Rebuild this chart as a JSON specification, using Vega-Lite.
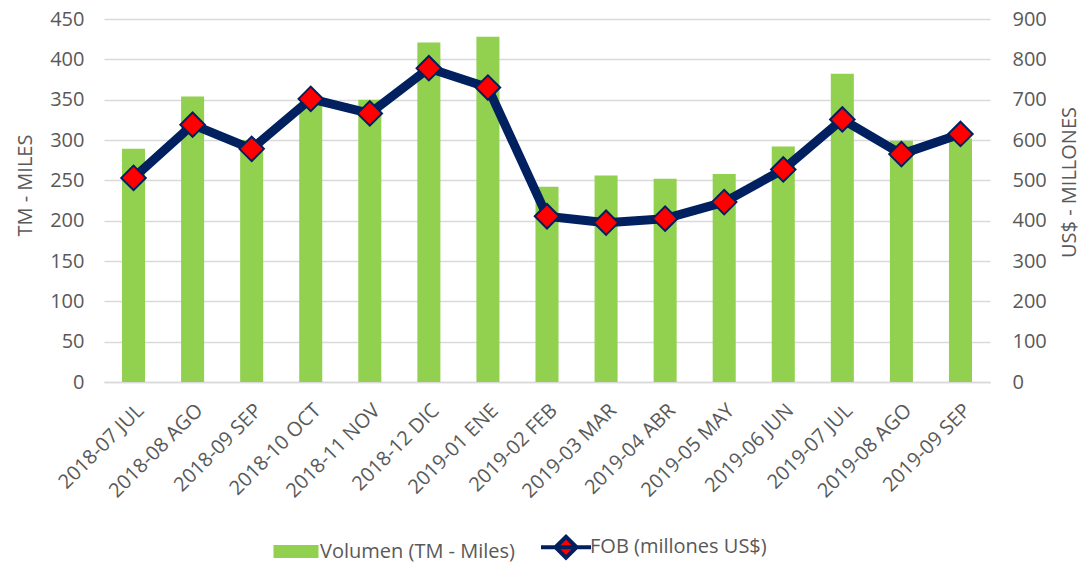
{
  "$schema": "https://vega.github.io/schema/vega-lite/v6.json",
  "width": 886,
  "height": 363,
  "autosize": {"type": "none"},
  "padding": {"left": 104, "top": 19, "right": 95, "bottom": 184},
  "config": {
    "view": {"stroke": null},
    "font": "Open Sans",
    "axis": {
      "labelColor": "#595959",
      "titleColor": "#595959",
      "labelFontSize": 20,
      "titleFontSize": 20,
      "titleFontWeight": "normal",
      "gridColor": "#D9D9D9",
      "gridWidth": 1.5,
      "ticks": false,
      "domain": false
    },
    "legend": {
      "labelColor": "#595959",
      "labelFontSize": 20,
      "labelFont": "Open Sans",
      "labelLimit": 400
    }
  },
  "data": {
    "values": [
      {"mes": "2018-07 JUL", "volumen": 289, "fob": 506},
      {"mes": "2018-08 AGO", "volumen": 354, "fob": 638},
      {"mes": "2018-09 SEP", "volumen": 300, "fob": 578},
      {"mes": "2018-10 OCT", "volumen": 345, "fob": 702},
      {"mes": "2018-11 NOV", "volumen": 350, "fob": 666},
      {"mes": "2018-12 DIC", "volumen": 421, "fob": 778},
      {"mes": "2019-01 ENE", "volumen": 428, "fob": 730},
      {"mes": "2019-02 FEB", "volumen": 242, "fob": 411},
      {"mes": "2019-03 MAR", "volumen": 256, "fob": 395},
      {"mes": "2019-04 ABR", "volumen": 252, "fob": 405},
      {"mes": "2019-05 MAY", "volumen": 258, "fob": 446},
      {"mes": "2019-06 JUN", "volumen": 292, "fob": 527},
      {"mes": "2019-07 JUL", "volumen": 382, "fob": 651},
      {"mes": "2019-08 AGO", "volumen": 299, "fob": 565},
      {"mes": "2019-09 SEP", "volumen": 302, "fob": 615}
    ]
  },
  "encoding": {
    "x": {
      "field": "mes",
      "type": "nominal",
      "sort": null,
      "scale": {"paddingInner": 0.61, "paddingOuter": 0.305},
      "axis": {
        "title": null,
        "labelAngle": -45,
        "labelPadding": 18,
        "domain": true,
        "domainColor": "#D9D9D9",
        "domainWidth": 1.5
      }
    }
  },
  "layer": [
    {
      "mark": {"type": "bar"},
      "encoding": {
        "y": {
          "field": "volumen",
          "type": "quantitative",
          "scale": {"domain": [0, 450]},
          "axis": {
            "title": "TM - MILES",
            "titleY": 166,
            "values": [0, 50, 100, 150, 200, 250, 300, 350, 400, 450],
            "labelPadding": 20,
            "titlePadding": 14,
            "grid": true
          }
        },
        "color": {
          "datum": "Volumen (TM - Miles)",
          "type": "nominal",
          "scale": {
            "domain": ["Volumen (TM - Miles)", "FOB (millones US$)"],
            "range": ["#92D050", "#FF0000"]
          },
          "legend": {
            "orient": "none",
            "legendX": 182,
            "legendY": 518,
            "direction": "horizontal",
            "title": null,
            "symbolSize": 2500,
            "labelOffset": 14,
            "columnPadding": 18,
            "encode": {
              "symbols": {
                "update": {
                  "shape": {"signal": "datum.value === 'FOB (millones US$)' ? 'M-1,0H-0.42L0,-0.42L0.42,0H1M0.42,0L0,0.42L-0.42,0Z' : 'M-0.9,-0.26H0.9V0.26H-0.9Z'"},
                  "fill": {"signal": "datum.value === 'FOB (millones US$)' ? '#FF0000' : '#92D050'"},
                  "stroke": {"signal": "datum.value === 'FOB (millones US$)' ? '#002060' : '#92D050'"},
                  "strokeWidth": {"signal": "datum.value === 'FOB (millones US$)' ? 4 : 0"},
                  "opacity": {"value": 1},
                  "fillOpacity": {"value": 1}
                }
              }
            }
          }
        }
      }
    },
    {
      "encoding": {
        "y": {
          "field": "fob",
          "type": "quantitative",
          "scale": {"domain": [0, 900]},
          "axis": {
            "orient": "right",
            "title": "US$ - MILLONES",
            "titleAngle": 270,
            "titleBaseline": "top",
            "titleY": 163,
            "values": [0, 100, 200, 300, 400, 500, 600, 700, 800, 900],
            "labelPadding": 22,
            "titlePadding": 13,
            "grid": false
          }
        }
      },
      "layer": [
        {
          "mark": {"type": "line", "stroke": "#002060", "strokeWidth": 9, "strokeJoin": "round"},
          "encoding": {}
        },
        {
          "mark": {"type": "point", "shape": "diamond", "filled": true, "fill": "#FF0000", "stroke": "#002060", "strokeWidth": 2, "size": 600, "opacity": 1}
        }
      ]
    }
  ],
  "resolve": {"scale": {"y": "independent"}}
}
